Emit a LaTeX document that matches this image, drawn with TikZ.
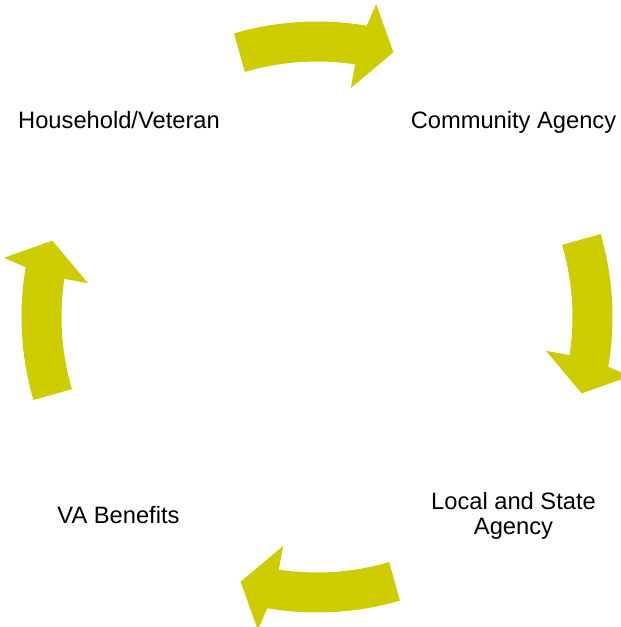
\documentclass[tikz,border=0pt]{standalone}
\usepackage{fontspec}
\setmainfont{Liberation Sans}
\definecolor{arrowyellow}{RGB}{204,204,0}
\tikzset{
  lbl/.style={font=\fontsize{23.7}{24.5}\selectfont, inner sep=0pt, align=center},
  curvedarrow/.pic={
    \fill[arrowyellow] (106.3:295.5) arc[start angle=106.3,end angle=80.3,radius=295.5]
      -- (79.3:318.5) -- (73.9:275.5) -- (81.6:231.5) -- (81.4:255.5)
      arc[start angle=81.4,end angle=106.4,radius=255.5] -- cycle;
  }
}
\begin{document}
\begin{tikzpicture}[x=1pt,y=1pt]
\useasboundingbox (0,0) rectangle (621,-627);
\clip (0,0) rectangle (621,-627);
\coordinate (c) at (317,-317);
\pic (arrowtop) at (c) {curvedarrow};
\pic[rotate=-90] (arrowright) at (c) {curvedarrow};
\pic[rotate=180] (arrowbottom) at (c) {curvedarrow};
\pic[rotate=90] (arrowleft) at (c) {curvedarrow};
\node[lbl, anchor=base] (household) at (119,-128) {Household/Veteran};
\node[lbl, anchor=base] (community) at (513.5,-128) {Community Agency};
\node[lbl] (local) at (513.5,-516) {Local and State\\Agency};
\node[lbl, anchor=base] (va) at (118.5,-523) {VA Benefits};
\end{tikzpicture}
\end{document}
